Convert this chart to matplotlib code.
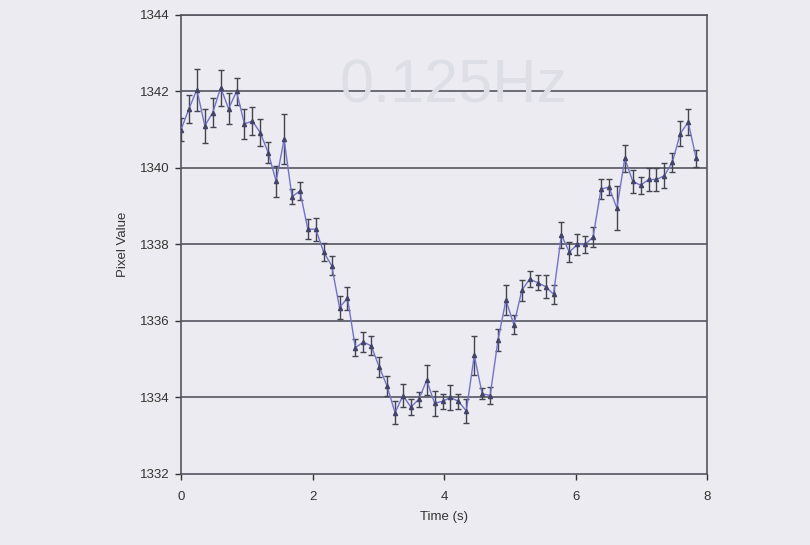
import matplotlib.pyplot as plt

# time stamps (s) and mean pixel values with error bar half-widths
time = [0.000, 0.121, 0.241, 0.362, 0.482, 0.603, 0.723, 0.844, 0.964, 1.085,
        1.205, 1.326, 1.446, 1.567, 1.687, 1.808, 1.928, 2.049, 2.169, 2.290,
        2.410, 2.531, 2.651, 2.772, 2.892, 3.013, 3.133, 3.254, 3.374, 3.495,
        3.615, 3.736, 3.856, 3.977, 4.097, 4.218, 4.338, 4.459, 4.579, 4.700,
        4.820, 4.941, 5.061, 5.182, 5.302, 5.423, 5.543, 5.664, 5.784, 5.905,
        6.025, 6.146, 6.266, 6.387, 6.507, 6.628, 6.748, 6.869, 6.989, 7.110,
        7.230, 7.351, 7.471, 7.592, 7.712, 7.833]
pixel = [1341.00, 1341.55, 1342.05, 1341.10, 1341.45, 1342.10, 1341.55, 1342.00, 1341.15, 1341.23,
         1340.92, 1340.40, 1339.65, 1340.75, 1339.25, 1339.40, 1338.40, 1338.40, 1337.80, 1337.45,
         1336.35, 1336.60, 1335.30, 1335.45, 1335.35, 1334.80, 1334.30, 1333.60, 1334.05, 1333.75,
         1333.95, 1334.45, 1333.85, 1333.90, 1334.00, 1333.90, 1333.65, 1335.10, 1334.10, 1334.05,
         1335.50, 1336.55, 1335.90, 1336.80, 1337.10, 1337.00, 1336.90, 1336.70, 1338.25, 1337.80,
         1338.00, 1338.00, 1338.20, 1339.45, 1339.50, 1338.95, 1340.25, 1339.65, 1339.55, 1339.70,
         1339.70, 1339.80, 1340.15, 1340.90, 1341.20, 1340.25]
err = [0.30, 0.37, 0.55, 0.45, 0.37, 0.47, 0.40, 0.35, 0.39, 0.36,
       0.35, 0.28, 0.40, 0.65, 0.20, 0.24, 0.26, 0.30, 0.23, 0.25,
       0.30, 0.30, 0.22, 0.26, 0.25, 0.27, 0.26, 0.30, 0.30, 0.20,
       0.20, 0.39, 0.33, 0.20, 0.33, 0.20, 0.32, 0.50, 0.15, 0.22,
       0.28, 0.40, 0.25, 0.28, 0.20, 0.20, 0.30, 0.25, 0.33, 0.27,
       0.27, 0.23, 0.27, 0.27, 0.20, 0.58, 0.35, 0.30, 0.22, 0.30,
       0.30, 0.32, 0.25, 0.33, 0.33, 0.22]

plt.rcParams['font.family'] = ['Liberation Sans', 'DejaVu Sans']
bg = '#ebebf1'

fig = plt.figure(figsize=(8.1, 5.45), dpi=100, facecolor=bg)
ax = fig.add_axes([0.2235, 0.1303, 0.6495, 0.8422])
ax.set_facecolor(bg)

# faded scan remnant behind the chart
fig.text(0.56, 0.84, '0.125Hz', fontsize=44, color='#dedee6', ha='center', va='center', zorder=0)

for v in [1334, 1336, 1338, 1340, 1342, 1344]:
    ax.axhline(v, color='#555560', linewidth=1.2, zorder=1)

ax.errorbar(time, pixel, yerr=err, color='#7272cc', linewidth=1.0,
            ecolor='#444450', elinewidth=1.0, capsize=2.5, capthick=1.0,
            marker='^', markersize=3, markerfacecolor='#444466', markeredgecolor='#444466',
            zorder=3)

ax.set_xlim(0, 8)
ax.set_ylim(1332, 1344)
ax.set_xticks([0, 2, 4, 6, 8])
ax.set_yticks([1332, 1334, 1336, 1338, 1340, 1342, 1344])
for s in ax.spines.values():
    s.set_color('#555560')
    s.set_linewidth(1.2)
ax.tick_params(axis='both', colors='#333333', labelsize=9.5, length=4, width=1.0, direction='out')
ax.tick_params(axis='x', pad=8)
ax.tick_params(axis='y', pad=4)
ax.set_xlabel('Time (s)', fontsize=9.5, color='#333333', labelpad=6)
ax.set_ylabel('Pixel Value', fontsize=9.5, color='#333333', labelpad=8)

fig.savefig('out.png', dpi=100, facecolor=bg)
